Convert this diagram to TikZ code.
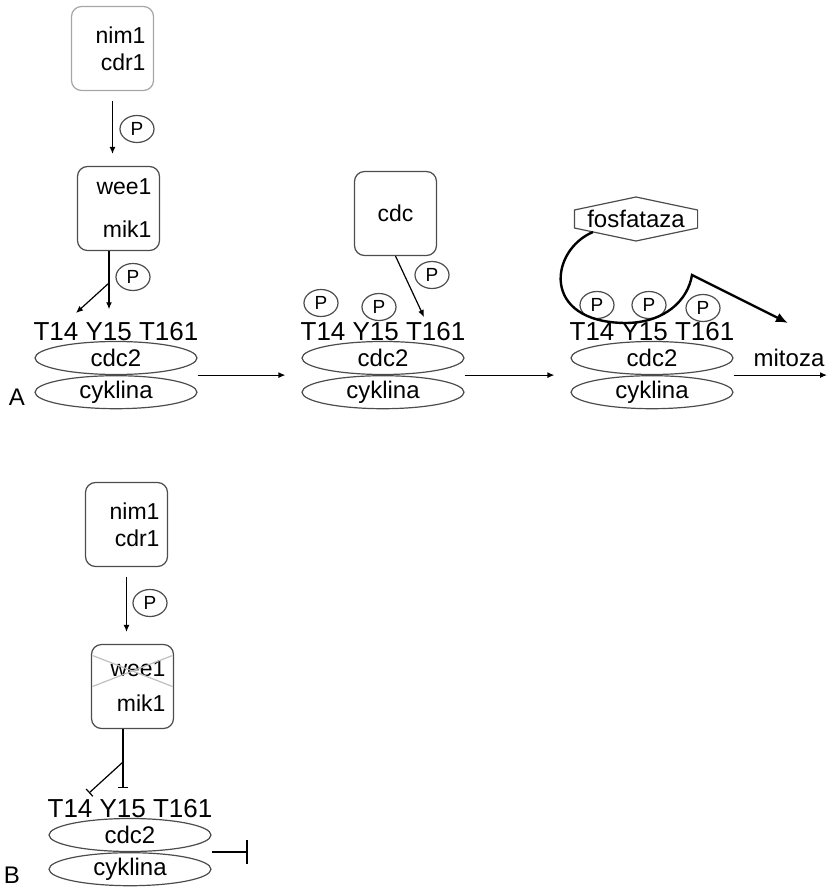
\documentclass[tikz,border=0pt]{standalone}
\usepackage{fontspec}
\setmainfont{Liberation Sans}
\usetikzlibrary{positioning,arrows.meta,shapes.geometric,calc}
\tikzset{
box/.style={
draw=black!70,
rounded corners=5pt,
text width=33pt,
inner xsep=4pt,
minimum height=42pt,
align=right,
font=\fontsize{11.5}{13.5}\selectfont
},
lobe/.style={
draw=black!70,
ellipse,
minimum width=81pt,
minimum height=16.5pt,
inner sep=0pt,
font=\fontsize{12}{14}\selectfont
},
sites/.style={
inner sep=0pt,
font=\fontsize{13}{15}\selectfont
},
phos/.style={
draw=black!70,
ellipse,
minimum width=17pt,
minimum height=13.5pt,
inner sep=0pt,
font=\fontsize{9.5}{11}\selectfont
},
tag/.style={
font=\fontsize{12}{14}\selectfont
},
arrow/.style={
-{Latex[length=3.5pt,width=3pt]},
line width=0.6pt
},
gap/.style={
shorten <=5pt,
shorten >=6pt
},
block/.style={
-{Bar[width=5pt]},
line width=0.6pt
},
pathway/.style={
-{Latex[length=6pt,width=5pt]},
line width=1.2pt
}
}
\begin{document}
\begin{tikzpicture}[x=0.5pt,y=-0.5pt,line width=0.6pt]
\useasboundingbox (0,0) rectangle (829,888);

% kinases
\node[box,draw=black!35](nimA) at (112.5,48.5){nim1\\cdr1};
\node[box](weeA) at (118.5,208.5){wee1\\[8pt]mik1};
\node[box,align=center](cdcK) at (395.5,213.5){cdc};
\node[box](nimB) at (126.5,524.5){nim1\\cdr1};
\node[box](weeB) at (132.5,686.5){wee1\\[4pt]mik1};

% cdc2/cyklina complexes
\foreach \n/\x/\y in {A/116/358,M/383/358,R/652/358,B/130/835}{
\node[lobe](cdc\n) at (\x,\y){cdc2};
\node[lobe,below=0pt of cdc\n](cyk\n){cyklina};
\node[sites,above=0pt of cdc\n](sites\n){T14 Y15 T161};
}

% phosphates
\foreach \i/\x/\y in {1/137/129,2/133/277,3/432/275,4/321/303,5/379/307,6/597/305,7/649/305,8/703/308,9/150/603}
\node[phos](p\i) at (\x,\y){P};

\node[tag](a) at (17,397){A};
\node[tag](b) at (12,875){B};
\node[tag](mitoza) at (789,358){mitoza};
\node[tag,minimum width=61pt,inner sep=0pt](fos) at (636,219){fosfataza};
\draw[black!70] ($(fos.west)+(0,-9)$) -- ($(fos.center)+(0,-22)$) -- ($(fos.east)+(0,-9)$)
  -- ($(fos.east)+(0,9)$) -- ($(fos.center)+(0,22)$) -- ($(fos.west)+(0,9)$) -- cycle;

\coordinate (forkA) at (109,283);
\coordinate (tipA) at (76,313);
\coordinate (tipM) at (424,317);
\coordinate (forkB) at (123,762);
\coordinate (tipB) at (89,793);
\coordinate (mitozaEnd) at (827,375);
\coordinate (stopB) at (248,852);
\coordinate (turnR) at (692,275);
\coordinate (endR) at (788,323);

% A
\draw[arrow,gap](nimA.south)--(nimA.south |- weeA.north);
\draw[arrow](forkA |- weeA.south)--([yshift=6pt]forkA |- sitesA.north);
\draw[arrow](forkA)--(tipA);
\draw[arrow](cdcK.south)--(tipM);
\foreach \u/\v in {A/M,M/R}
\draw[arrow](cdc\u.east |- cdc\u.south)--([xshift=-8pt]cdc\v.west |- cdc\v.south);
\draw[arrow](cdcR.east |- cdcR.south)--(cdcR.south -| mitozaEnd);
\draw[pathway]($(fos.center)+(-43,13)$) .. controls (550,250) and (540,322) .. (625,323)
  .. controls (665,323) and (688,300) .. (turnR)--(endR);

% B
\draw[arrow,gap](nimB.south)--(nimB.south |- weeB.north);
\draw[black!25]($(weeB.center)+(-40,-31)$)--($(weeB.center)+(40,0)$)
  ($(weeB.center)+(-40,0)$)--($(weeB.center)+(40,-31)$);
\draw[block](forkB |- weeB.south)--([yshift=5pt]forkB |- sitesB.north);
\draw[block](forkB)--(tipB);
\draw[-{Bar[width=12pt]},line width=1pt](cdcB.east |- cdcB.south)--(cdcB.south -| stopB);
\end{tikzpicture}
\end{document}
